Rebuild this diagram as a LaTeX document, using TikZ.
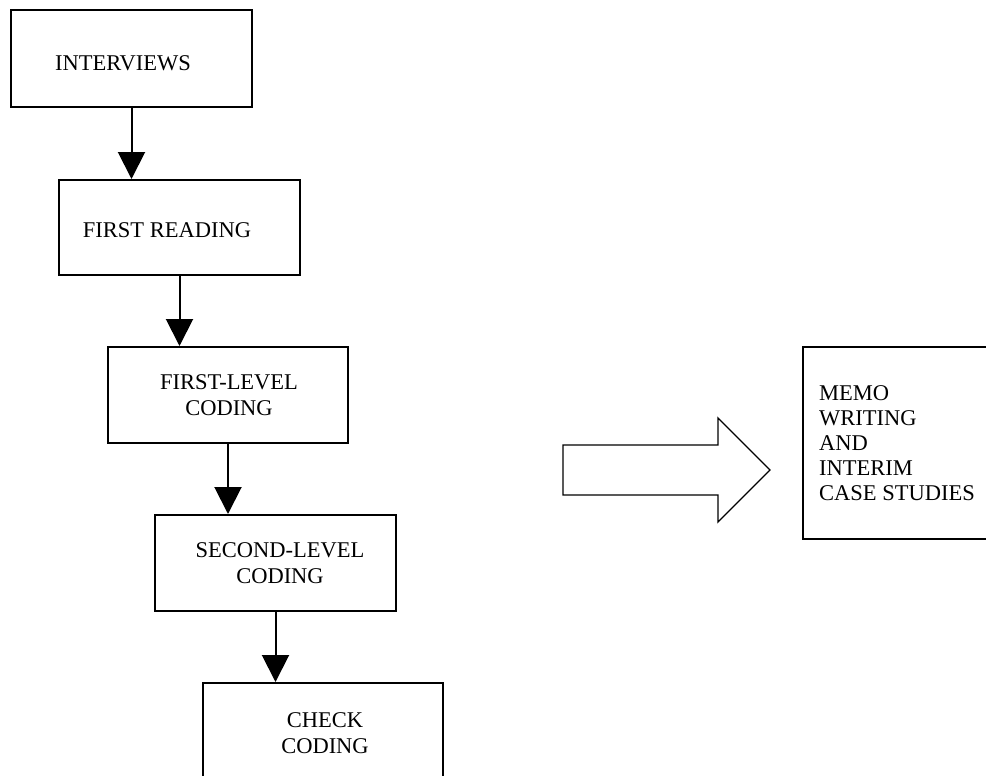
\documentclass[tikz,border=0pt]{standalone}
\usepackage{fontspec}
\setmainfont{Liberation Serif}
\usetikzlibrary{arrows.meta}
\begin{document}
\begin{tikzpicture}[x=1pt,y=-1pt,
  box/.style={draw=black,line width=2pt,rectangle,inner sep=0pt},
  lbl/.style={inner sep=0pt,align=center,font=\fontsize{22.5}{26}\selectfont},
  flow/.style={draw=black,line width=2pt,-{Triangle[width=27pt,length=27pt]}},
  blockarrow/.style={draw=black,line width=1.3pt,fill=white,line join=miter}]
\useasboundingbox (0,0) rectangle (986,776);
\clip (0,0) rectangle (986,776);
\fill[white] (0,0) rectangle (986,776);
% boxes
\node[box,minimum width=241pt,minimum height=97pt] (b1) at (131.5,58.5) {};
\node[box,minimum width=241pt,minimum height=95pt] (b2) at (179.5,227.5) {};
\node[box,minimum width=240pt,minimum height=96pt] (b3) at (228,395) {};
\node[box,minimum width=241pt,minimum height=96pt] (b4) at (275.5,563) {};
\node[box,minimum width=240pt,minimum height=120pt] (b5) at (323,743) {};
\node[box,minimum width=200pt,minimum height=192pt] (m) at (903,443) {};
% texts
\node[lbl] (t1) at (123,63) {INTERVIEWS};
\node[lbl] (t2) at (167,230) {FIRST READING};
\node[lbl] (t3) at (229,395.5) {FIRST-LEVEL\\CODING};
\node[lbl] (t4) at (280,563.5) {SECOND-LEVEL\\CODING};
\node[lbl] (t5) at (325,733.5) {CHECK\\CODING};
\node[inner sep=0pt,anchor=west,align=left,font=\fontsize{22.5}{25}\selectfont] (tm) at (819,443) {MEMO\\WRITING\\AND\\INTERIM\\CASE STUDIES};
% connectors
\draw[flow] (b1.south) -- (b1.south |- b2.north);
\draw[flow] (b2.south) -- (b2.south |- b3.north);
\draw[flow] (b3.south) -- (b3.south |- b4.north);
\draw[flow] (b4.south) -- (b4.south |- b5.north);
% block arrow
\draw[blockarrow] (563,445) -- (718,445) -- (718,418) -- (770,470) -- (718,522) -- (718,495) -- (563,495) -- cycle;
\end{tikzpicture}
\end{document}
